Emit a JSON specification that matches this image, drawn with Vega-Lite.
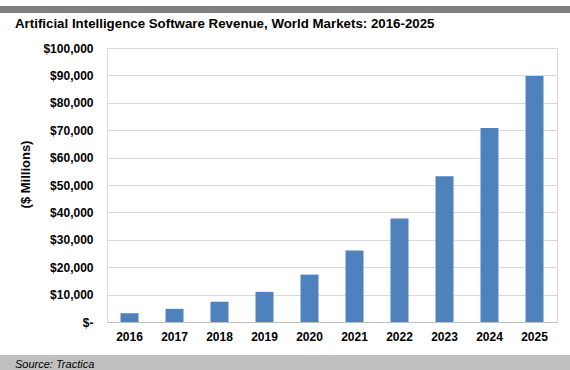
{
  "$schema": "https://vega.github.io/schema/vega-lite/v6.json",
  "padding": {"left": 0, "top": 6, "right": 0, "bottom": 0},
  "background": "white",
  "config": {"view": {"stroke": null}, "font": "Liberation Sans"},
  "spacing": 10,
  "vconcat": [
    {
      "width": 570,
      "height": 7,
      "data": {"values": [{}]},
      "mark": {"type": "bar", "color": "#808080"},
      "encoding": {},
      "view": {"fill": "#808080", "stroke": null},
      "title": {
        "text": "Artificial Intelligence Software Revenue, World Markets: 2016-2025",
        "orient": "bottom",
        "anchor": "start",
        "frame": "group",
        "dx": 15,
        "offset": 15.3,
        "baseline": "alphabetic",
        "fontSize": 13.3,
        "fontWeight": "bold",
        "color": "#000000",
        "font": "Liberation Sans"
      }
    },
    {
      "spacing": 17,
      "hconcat": [
        {
          "width": 1,
          "height": 297,
          "data": {"values": []},
          "mark": "point"
        },
        {
          "width": 450,
          "height": 274,
          "view": {"stroke": "#d9d9d9"},
          "data": {
            "values": [
              {"year": "2016", "revenue": 3200},
              {"year": "2017", "revenue": 4800},
              {"year": "2018", "revenue": 7400},
              {"year": "2019", "revenue": 11000},
              {"year": "2020", "revenue": 17300},
              {"year": "2021", "revenue": 26100},
              {"year": "2022", "revenue": 37800},
              {"year": "2023", "revenue": 53200},
              {"year": "2024", "revenue": 70800},
              {"year": "2025", "revenue": 89800}
            ]
          },
          "mark": {"type": "bar", "color": "#4f81bd"},
          "encoding": {
            "x": {
              "field": "year",
              "type": "ordinal",
              "scale": {"paddingInner": 0.6, "paddingOuter": 0.3},
              "axis": {
                "title": null,
                "labelAngle": 0,
                "labelFont": "Liberation Sans",
                "labelFontSize": 12,
                "labelFontWeight": "bold",
                "labelColor": "#000000",
                "labelPadding": 9,
                "ticks": false,
                "domainColor": "#bfbfbf",
                "grid": false
              }
            },
            "y": {
              "field": "revenue",
              "type": "quantitative",
              "scale": {"domain": [0, 100000], "nice": false},
              "axis": {
                "title": "($ Millions)",
                "titleFont": "Liberation Sans",
                "titleFontSize": 13,
                "titleFontWeight": "bold",
                "titleColor": "#000000",
                "titleAngle": 270,
                "titleAlign": "center",
                "titleBaseline": "middle",
                "titleX": -82,
                "titleY": 126,
                "values": [0, 10000, 20000, 30000, 40000, 50000, 60000, 70000, 80000, 90000, 100000],
                "labelExpr": "datum.value === 0 ? '$-' : '$' + format(datum.value, ',')",
                "labelFont": "Liberation Sans",
                "labelFontSize": 12,
                "labelFontWeight": "bold",
                "labelColor": "#000000",
                "labelPadding": 14,
                "ticks": false,
                "domain": false,
                "grid": true,
                "gridColor": "#d9d9d9"
              }
            }
          }
        }
      ]
    },
    {
      "width": 570,
      "height": 16,
      "view": {"fill": "#c0c0c0", "stroke": null},
      "data": {"values": [{"label": "Source: Tractica", "pos": 0}]},
      "mark": {
        "type": "text",
        "align": "left",
        "baseline": "middle",
        "dx": 15,
        "dy": 2,
        "font": "Liberation Sans",
        "fontSize": 11,
        "fontStyle": "italic",
        "color": "#000000"
      },
      "encoding": {
        "text": {"field": "label"},
        "x": {"field": "pos", "type": "quantitative", "scale": {"domain": [0, 1]}, "axis": null}
      }
    }
  ]
}
